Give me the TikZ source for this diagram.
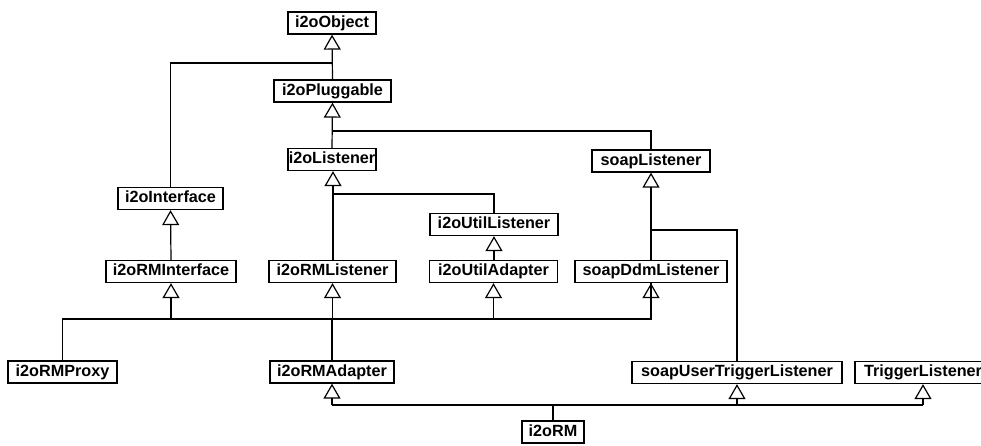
\documentclass[tikz,border=0pt]{standalone}
\usepackage{fontspec}
\setmainfont{Liberation Sans}
\usetikzlibrary{arrows.meta}
\begin{document}
\begin{tikzpicture}[x=1pt,y=-1pt,
  cls/.style={draw=black, line width=1.3pt, rectangle, inner sep=0pt, minimum height=22pt,
    text height=11.8pt, text depth=3.4pt, font=\fontsize{16.2}{18}\selectfont\bfseries, fill=white},
  inh/.style={line width=1.2pt, -{Triangle[open, length=15pt, width=17pt, line width=1.2pt]}},
  ln/.style={line width=1.2pt}]
\useasboundingbox (0,0) rectangle (981,445);
\begin{scope}
\clip (0,0) rectangle (981,445);
\node[cls, minimum width=88pt]  (obj)    at (332,23)    {i2oObject};
\node[cls, minimum width=117pt] (plug)   at (332.5,91)  {i2oPluggable};
\node[cls, minimum width=88pt]  (lis)    at (332,159.5) {i2oListener};
\node[cls, minimum width=118pt] (soapL)  at (651,161)   {soapListener};
\node[cls, minimum width=105pt] (intf)   at (170.5,198.5) {i2oInterface};
\node[cls, minimum width=128pt] (utilL)  at (494,224.5) {i2oUtilListener};
\node[cls, minimum width=130pt] (rmintf) at (171,271.5) {i2oRMInterface};
\node[cls, minimum width=127pt] (rmlis)  at (332.5,271.5) {i2oRMListener};
\node[cls, minimum width=128pt] (utilA)  at (493.5,271.5) {i2oUtilAdapter};
\node[cls, minimum width=152pt] (ddm)    at (651,271.5) {soapDdmListener};
\node[cls, minimum width=109pt] (proxy)  at (62.5,372)  {i2oRMProxy};
\node[cls, minimum width=124pt] (adapt)  at (332,372)   {i2oRMAdapter};
\node[cls, minimum width=210pt] (sutl)   at (737,372.5) {soapUserTriggerListener};
\node[cls, minimum width=136pt] (trig)   at (923,372.5) {TriggerListener};
\node[cls, minimum width=62pt]  (rm)     at (553,432)   {i2oRM};

\coordinate (j1) at (332,63);
\coordinate (j2) at (332,131);
\coordinate (j3) at (333,194);
\coordinate (j4) at (651,230);
\coordinate (j5) at (332,319);
\coordinate (j6) at (553,405);

% i2oObject
\draw[inh] (plug.north) -- (obj.south);
\draw[ln] (intf.north) |- (j1);
% i2oPluggable
\draw[inh] (lis.north) -- (plug.south);
\draw[ln] (soapL.north) |- (j2);
% i2oListener
\draw[inh] (rmlis.north -| j3) -- (lis.south -| j3);
\draw[ln] (utilL.north) |- (j3);
% i2oInterface
\draw[inh] (rmintf.north) -- (intf.south);
% i2oUtilListener
\draw[inh] (utilA.north -| utilL) -- (utilL.south);
% soapListener
\draw[inh] (ddm.north) -- (soapL.south);
\draw[ln] (sutl.north) |- (j4);
% level 319
\draw[ln] (adapt.north) -- (j5);
\draw[ln] (proxy.north) |- (j5);
\draw[ln] (j5) -| (ddm.south);
\draw[inh] (rmintf.south |- j5) -- (rmintf.south);
\draw[inh] (j5 -| rmlis) -- (rmlis.south);
\draw[inh] (j5 -| utilA) -- (utilA.south);
\draw[inh] (j5 -| ddm) -- (ddm.south);
% i2oRM
\draw[ln] (rm.north) -- (j6);
\draw[ln] (j6 -| adapt) -- (j6 -| trig);
\draw[inh] (j6 -| adapt) -- (adapt.south);
\draw[inh] (j6 -| sutl) -- (sutl.south);
\draw[inh] (j6 -| trig) -- (trig.south);
\end{scope}
\end{tikzpicture}
\end{document}
